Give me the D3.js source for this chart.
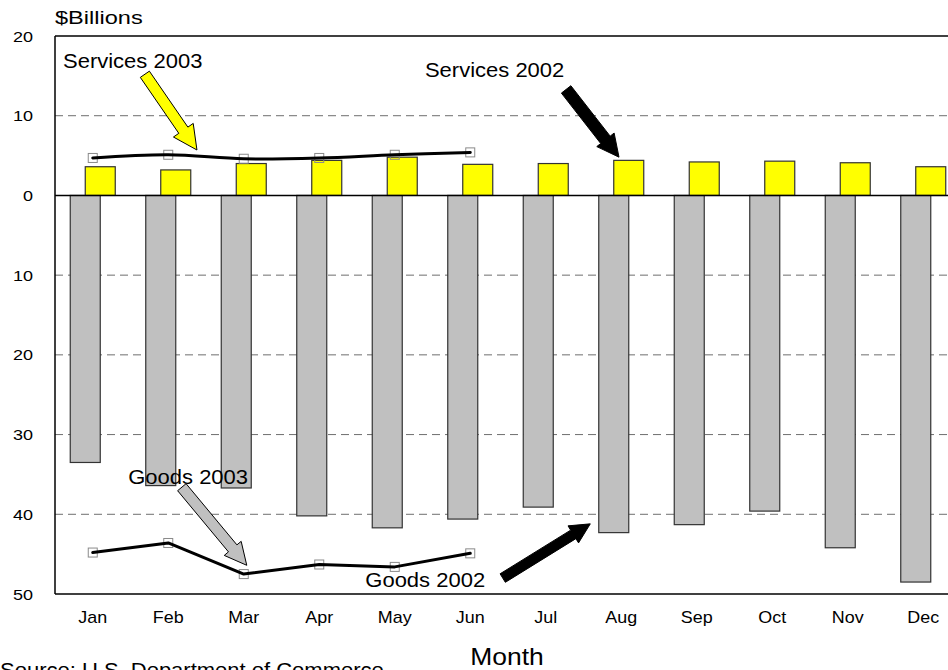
<!DOCTYPE html>
<html><head><meta charset="utf-8">
<script src="https://cdn.jsdelivr.net/npm/d3@7"></script>
<style>
body{margin:0;background:#fff}
svg{display:block}
text{font-family:"Liberation Sans",Arial,sans-serif;fill:#000}
</style>
</head><body>
<svg id="c" width="948" height="670"></svg>
<script>
// ---- data ----
const months = ["Jan","Feb","Mar","Apr","May","Jun","Jul","Aug","Sep","Oct","Nov","Dec"];
const services2002 = [3.6,3.2,4.0,4.4,4.8,3.9,4.0,4.4,4.2,4.3,4.1,3.6];
const goods2002 = [-33.5,-36.4,-36.7,-40.2,-41.7,-40.6,-39.1,-42.3,-41.3,-39.6,-44.2,-48.5];
const services2003 = [4.7,5.1,4.6,4.7,5.1,5.4];
const goods2003 = [-44.8,-43.6,-47.5,-46.3,-46.6,-44.9];
const yTicks = [20,10,0,-10,-20,-30,-40,-50];
const yTickLabels = ["20","10","0","10","20","30","40","50"];
const gridValues = [10,-10,-20,-30,-40];
// annotations: label position and arrow tail/tip in (month index, value) units
const annotations = [
  {text:"Services 2003", lx:-0.394, ly:16.0, tail:[0.69,15.2], tip:[1.38,5.7], fill:"#ffff00", sw:11, hw:24, hl:24},
  {text:"Services 2002", lx:4.40, ly:14.8, tail:[6.27,13.3], tip:[6.97,4.8], fill:"#000000", sw:12, hw:22, hl:22},
  {text:"Goods 2003", lx:0.47, ly:-36.2, tail:[1.18,-36.6], tip:[2.04,-46.4], fill:"#c0c0c0", sw:11, hw:22, hl:22},
  {text:"Goods 2002", lx:3.61, ly:-49.1, tail:[5.43,-48.0], tip:[6.59,-41.2], fill:"#000000", sw:10, hw:20, hl:20}
];

const svg = d3.select("#c");
const L = 55, R = 961, T = 36, B = 594;
const x = d3.scaleBand().domain(months).range([L, R]).padding(0);
const bw = x.bandwidth();
const y = d3.scaleLinear().domain([-50, 20]).range([B, T]);
const xc = i => L + bw * (i + 0.5);
const barW = 30;

function txt(g, px, py, s, size, anchor, sx) {
  return g.append("text")
    .attr("transform", `translate(${px},${py}) scale(${sx},1)`)
    .attr("text-anchor", anchor)
    .style("font-size", size + "px")
    .text(s);
}

// gridlines
svg.append("g").selectAll("line").data(gridValues).join("line")
  .attr("x1", L).attr("x2", 948)
  .attr("y1", d => y(d)).attr("y2", d => y(d))
  .attr("stroke", "#6e6e6e").attr("stroke-width", 1)
  .attr("stroke-dasharray", "8,5");

// goods bars
svg.append("g").selectAll("rect").data(goods2002).join("rect")
  .attr("x", (d, i) => x(months[i]) + bw / 2 - 7.5 - barW / 2)
  .attr("width", barW)
  .attr("y", y(0))
  .attr("height", d => y(d) - y(0))
  .attr("fill", "#c0c0c0").attr("stroke", "#333").attr("stroke-width", 1.2);

// services bars
svg.append("g").selectAll("rect").data(services2002).join("rect")
  .attr("x", (d, i) => x(months[i]) + bw / 2 + 7.5 - barW / 2)
  .attr("width", barW)
  .attr("y", d => y(d))
  .attr("height", d => y(0) - y(d))
  .attr("fill", "#ffff00").attr("stroke", "#333").attr("stroke-width", 1.2);

// axes frame
svg.append("line").attr("x1", L).attr("x2", 948).attr("y1", T).attr("y2", T).attr("stroke", "#000").attr("stroke-width", 1.3);
svg.append("line").attr("x1", L).attr("x2", 948).attr("y1", y(0)).attr("y2", y(0)).attr("stroke", "#000").attr("stroke-width", 1.5);
svg.append("line").attr("x1", L).attr("x2", 948).attr("y1", B).attr("y2", B).attr("stroke", "#000").attr("stroke-width", 1.5);
svg.append("line").attr("x1", L).attr("x2", L).attr("y1", T).attr("y2", B).attr("stroke", "#000").attr("stroke-width", 1.5);

// y tick labels
const yl = svg.append("g");
yTicks.forEach((v, i) => txt(yl, 33, y(v) + 5.5, yTickLabels[i], 15, "end", 1.2));

// month labels
const ml = svg.append("g");
months.forEach((m, i) => txt(ml, xc(i), 623, m, 16, "middle", 1.12));

// 2003 lines
const markSize = 9;
function series(data, curve) {
  const g = svg.append("g");
  g.selectAll("rect").data(data).join("rect")
    .attr("x", (d, i) => xc(i) - markSize / 2)
    .attr("y", d => y(d) - markSize / 2)
    .attr("width", markSize).attr("height", markSize)
    .attr("fill", "none").attr("stroke", "#8a8a8a").attr("stroke-width", 1);
  g.append("path").datum(data)
    .attr("d", d3.line().x((d, i) => xc(i)).y(d => y(d)).curve(curve))
    .attr("fill", "none").attr("stroke", "#000").attr("stroke-width", 3)
    .attr("stroke-linejoin", "round").attr("stroke-linecap", "round");
}
series(services2003, d3.curveCatmullRom.alpha(0.5));
series(goods2003, d3.curveLinear);

// annotations
function blockArrow(t, p, sw, hw, hl, fill) {
  const x1 = xc(t[0]), y1 = y(t[1]), x2 = xc(p[0]), y2 = y(p[1]);
  const dx = x2 - x1, dy = y2 - y1, len = Math.hypot(dx, dy);
  const ux = dx / len, uy = dy / len, nx = -uy, ny = ux;
  const bx = x2 - ux * hl, by = y2 - uy * hl;
  const pts = [
    [x1 + nx * sw / 2, y1 + ny * sw / 2],
    [bx + nx * sw / 2, by + ny * sw / 2],
    [bx + nx * hw / 2, by + ny * hw / 2],
    [x2, y2],
    [bx - nx * hw / 2, by - ny * hw / 2],
    [bx - nx * sw / 2, by - ny * sw / 2],
    [x1 - nx * sw / 2, y1 - ny * sw / 2]
  ];
  svg.append("polygon").attr("points", pts.map(q => q.join(",")).join(" "))
    .attr("fill", fill).attr("stroke", "#000").attr("stroke-width", 1)
    .attr("stroke-linejoin", "miter");
}
const an = svg.append("g");
annotations.forEach(a => {
  blockArrow(a.tail, a.tip, a.sw, a.hw, a.hl, a.fill);
});
annotations.forEach(a => {
  txt(an, xc(a.lx), y(a.ly), a.text, 20, "start", 1.1);
});

// titles
txt(svg, 55, 24, "$Billions", 19, "start", 1.24);
txt(svg, 507, 665, "Month", 23, "middle", 1.15);
txt(svg, 0, 677, "Source: U.S. Department of Commerce", 20, "start", 1.1);
</script>
</body></html>
